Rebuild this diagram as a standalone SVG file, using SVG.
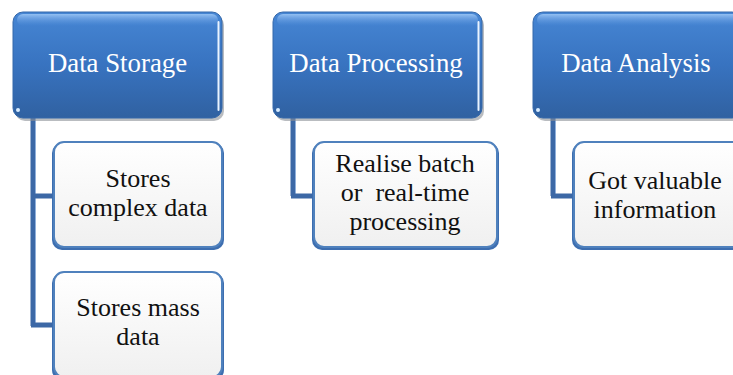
<svg xmlns="http://www.w3.org/2000/svg" width="733" height="375" viewBox="0 0 733 375">
  <defs>
    <linearGradient id="headFill" x1="0" y1="0" x2="0" y2="1">
      <stop offset="0" stop-color="#4686d4"/>
      <stop offset="0.5" stop-color="#3873c0"/>
      <stop offset="1" stop-color="#3061a1"/>
    </linearGradient>
    <linearGradient id="headShine" x1="0" y1="0" x2="0" y2="1">
      <stop offset="0" stop-color="#9cc6f5" stop-opacity="0.9"/>
      <stop offset="1" stop-color="#5d96e0" stop-opacity="0"/>
    </linearGradient>
    <linearGradient id="childFill" x1="0" y1="0" x2="0" y2="1">
      <stop offset="0" stop-color="#ffffff"/>
      <stop offset="1" stop-color="#f0f0f0"/>
    </linearGradient>
  </defs>
  <style>
    .shadow { fill: #8a8f96; opacity: 0.6; }
    .head { fill: url(#headFill); stroke: #3568aa; stroke-width: 1; }
    .shine { fill: url(#headShine); }
    .edge { stroke: #e9f4ff; stroke-width: 2; fill: none; stroke-linecap: round; }
    .child { fill: url(#childFill); stroke: #4f81bd; stroke-width: 2; }
    .childbase { fill: #3d6eb0; }
    .link { stroke: #3c68a6; stroke-width: 5; fill: none; }
    .linkhi { stroke: #8fb0dc; stroke-width: 1; fill: none; }
    .ht { font-family: "Liberation Serif", "Times New Roman", serif; font-size: 26.8px; fill: #ffffff; text-anchor: middle; }
    .ct { font-family: "Liberation Serif", "Times New Roman", serif; font-size: 26px; fill: #111111; text-anchor: middle; }
  </style>

  <!-- connectors -->
  <g id="connectors">
    <path class="link" d="M33 118 V326 M31 196 H54 M31 325 H54"/>
    <path class="linkhi" d="M35.5 118 V193 M35.5 199 V322"/>
    <path class="link" d="M293 118 V196 M291 196 H314"/>
    <path class="linkhi" d="M295.5 118 V193"/>
    <path class="link" d="M553 118 V196 M551 196 H574"/>
    <path class="linkhi" d="M555.5 118 V193"/>
  </g>

  <!-- header nodes -->
  <g id="data-storage">
    <rect class="shadow" x="15" y="15" width="209" height="106" rx="10"/>
    <rect class="head" x="13" y="12" width="209" height="106" rx="10"/>
    <rect class="shine" x="17" y="14" width="201" height="12" rx="6"/>
    <path class="edge" d="M218.5 22 V110"/>
    <circle cx="18" cy="110" r="2" fill="#d8ecff"/>
    <text class="ht" x="117.5" y="72">Data Storage</text>
  </g>
  <g id="data-processing">
    <rect class="shadow" x="275" y="15" width="209" height="106" rx="10"/>
    <rect class="head" x="273" y="12" width="209" height="106" rx="10"/>
    <rect class="shine" x="277" y="14" width="201" height="12" rx="6"/>
    <path class="edge" d="M478.5 22 V110"/>
    <circle cx="278" cy="110" r="2" fill="#d8ecff"/>
    <text class="ht" x="376" y="72">Data Processing</text>
  </g>
  <g id="data-analysis">
    <rect class="shadow" x="535" y="15" width="209" height="106" rx="10"/>
    <rect class="head" x="533" y="12" width="209" height="106" rx="10"/>
    <rect class="shine" x="537" y="14" width="201" height="12" rx="6"/>
    <circle cx="538" cy="110" r="2" fill="#d8ecff"/>
    <text class="ht" x="636" y="72">Data Analysis</text>
  </g>

  <!-- child nodes -->
  <g id="stores-complex-data">
    <rect class="childbase" x="52" y="143" width="172" height="107" rx="10"/>
    <rect class="child" x="54" y="142" width="168" height="105" rx="10"/>
    <text class="ct" x="138" y="187">Stores</text>
    <text class="ct" x="138" y="216">complex data</text>
  </g>
  <g id="stores-mass-data">
    <rect class="childbase" x="52" y="273" width="172" height="107" rx="10"/>
    <rect class="child" x="54" y="272" width="168" height="105" rx="10"/>
    <text class="ct" x="138" y="316">Stores mass</text>
    <text class="ct" x="138" y="345">data</text>
  </g>
  <g id="realise-processing">
    <rect class="childbase" x="312" y="143" width="187" height="107" rx="10"/>
    <rect class="child" x="314" y="142" width="183" height="105" rx="10"/>
    <text class="ct" x="405" y="172">Realise batch</text>
    <text class="ct" x="405" y="201" xml:space="preserve">or  real-time</text>
    <text class="ct" x="405" y="230">processing</text>
  </g>
  <g id="got-information">
    <rect class="childbase" x="572" y="143" width="187" height="107" rx="10"/>
    <rect class="child" x="574" y="142" width="183" height="105" rx="10"/>
    <text class="ct" x="655" y="189">Got valuable</text>
    <text class="ct" x="655" y="218">information</text>
  </g>
</svg>
